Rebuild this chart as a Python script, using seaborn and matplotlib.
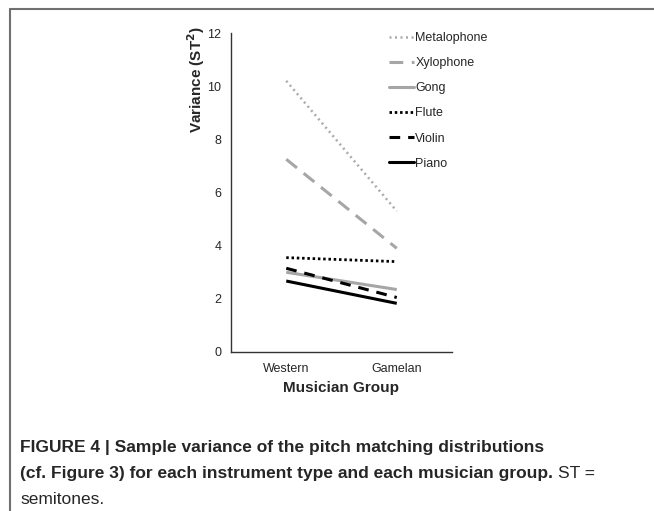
import matplotlib
matplotlib.use("Agg")
import matplotlib.pyplot as plt
import seaborn as sns
import pandas as pd
from matplotlib.lines import Line2D

groups = ["Western", "Gamelan"]
instruments = ["Metalophone", "Xylophone", "Gong", "Flute", "Violin", "Piano"]
metalophone = [10.2, 5.3]
xylophone = [7.25, 3.9]
gong = [3.0, 2.35]
flute = [3.55, 3.4]
violin = [3.15, 2.05]
piano = [2.67, 1.83]
yticks = [0, 2, 4, 6, 8, 10, 12]

series = [metalophone, xylophone, gong, flute, violin, piano]
rows = []
for name, vals in zip(instruments, series):
    for g, v in zip(groups, vals):
        rows.append({"group": g, "instrument": name, "value": v})
df = pd.DataFrame(rows)

sns.set_style("white")
plt.rcParams["font.family"] = ["Liberation Sans", "DejaVu Sans"]

styles = {
    "Metalophone": dict(color="#ababab", lw=1.8, dashes=(0.8, 1.4)),
    "Xylophone": dict(color="#a6a6a6", lw=2.2, dashes=(4.5, 2.8)),
    "Gong": dict(color="#a6a6a6", lw=2.2, dashes=None),
    "Flute": dict(color="black", lw=2.0, dashes=(0.9, 1.0)),
    "Violin": dict(color="black", lw=2.2, dashes=(3.5, 2.6)),
    "Piano": dict(color="black", lw=2.2, dashes=None),
}

fig = plt.figure(figsize=(6.54, 5.11), dpi=100)
W, H = 654, 511
ax = fig.add_axes([231 / W, 1 - 352 / H, (452 - 231) / W, (352 - 33) / H])

handles = []
for name in instruments:
    st = styles[name]
    sub = df[df["instrument"] == name]
    sns.lineplot(data=sub, x="group", y="value", ax=ax, color=st["color"],
                 linewidth=st["lw"], legend=False, sort=False)
    ln = ax.lines[-1]
    if st["dashes"] is not None:
        ln.set_dashes(st["dashes"])
    ln.set_solid_capstyle("butt")
    ln.set_dash_capstyle("butt")
    h = Line2D([0], [0], color=st["color"], lw=st["lw"])
    if st["dashes"] is not None:
        h.set_dashes(st["dashes"])
    handles.append(h)

ax.set_xlim(-0.5, 1.5)
ax.set_ylim(0, 12)
ax.set_yticks(yticks)
ax.set_yticklabels([str(t) for t in yticks], fontsize=9)
ax.set_xticks([-0.5, 0.5, 1.5])
ax.set_xticklabels([])
ax.set_xticks([0, 1], minor=True)
ax.set_xticklabels(groups, minor=True, fontsize=9)
ax.tick_params(axis="x", which="major", direction="out", length=4, width=0.9, color="#333333")
ax.tick_params(axis="x", which="minor", length=0, pad=8)
ax.tick_params(axis="y", direction="out", length=4, width=0.9, color="#333333", pad=3)
for s in ["top", "right"]:
    ax.spines[s].set_visible(False)
for s in ["left", "bottom"]:
    ax.spines[s].set_color("#333333")
    ax.spines[s].set_linewidth(1.0)
ax.set_xlabel("")
ax.set_ylabel("")

fig.text(341 / W, 1 - 388 / H, "Musician Group", ha="center", va="center",
         fontsize=11, fontweight="bold")
fig.text(196 / W, 1 - 80 / H, "Variance (ST$^\\mathbf{2}$)", ha="center", va="center",
         rotation=90, fontsize=11, fontweight="bold")

leg = fig.legend(handles, instruments, loc="upper left",
                 bbox_to_anchor=(389 / W, 1 - 32 / H), frameon=False,
                 fontsize=9, handlelength=2.0, handletextpad=0.1,
                 labelspacing=1.05, borderpad=0, borderaxespad=0)

# frame lines (top and left)
fig.add_artist(Line2D([9.5 / W, 1.0], [1 - 9.5 / H, 1 - 9.5 / H], color="#707070", lw=1.5,
                      transform=fig.transFigure))
fig.add_artist(Line2D([9.5 / W, 9.5 / W], [0, 1 - 9.5 / H], color="#707070", lw=1.5,
                      transform=fig.transFigure))

cap_family = ["Liberation Sans", "DejaVu Sans"]
cs = 12.5
fig.text(20 / W, 1 - 447 / H, "FIGURE 4 | Sample variance of the pitch matching distributions",
         fontsize=cs, fontweight="bold", family=cap_family, va="center", ha="left")
t2 = fig.text(20 / W, 1 - 473 / H, "(cf. Figure 3) for each instrument type and each musician group.",
              fontsize=cs, fontweight="bold", family=cap_family, va="center", ha="left")
fig.canvas.draw()
bb = t2.get_window_extent()
fig.text((bb.x1 + 5) / W, 1 - 473 / H, "ST =", fontsize=cs, family=cap_family,
         va="center", ha="left")
fig.text(20 / W, 1 - 499 / H, "semitones.", fontsize=cs, family=cap_family,
         va="center", ha="left")

fig.savefig("out.png", dpi=100)
